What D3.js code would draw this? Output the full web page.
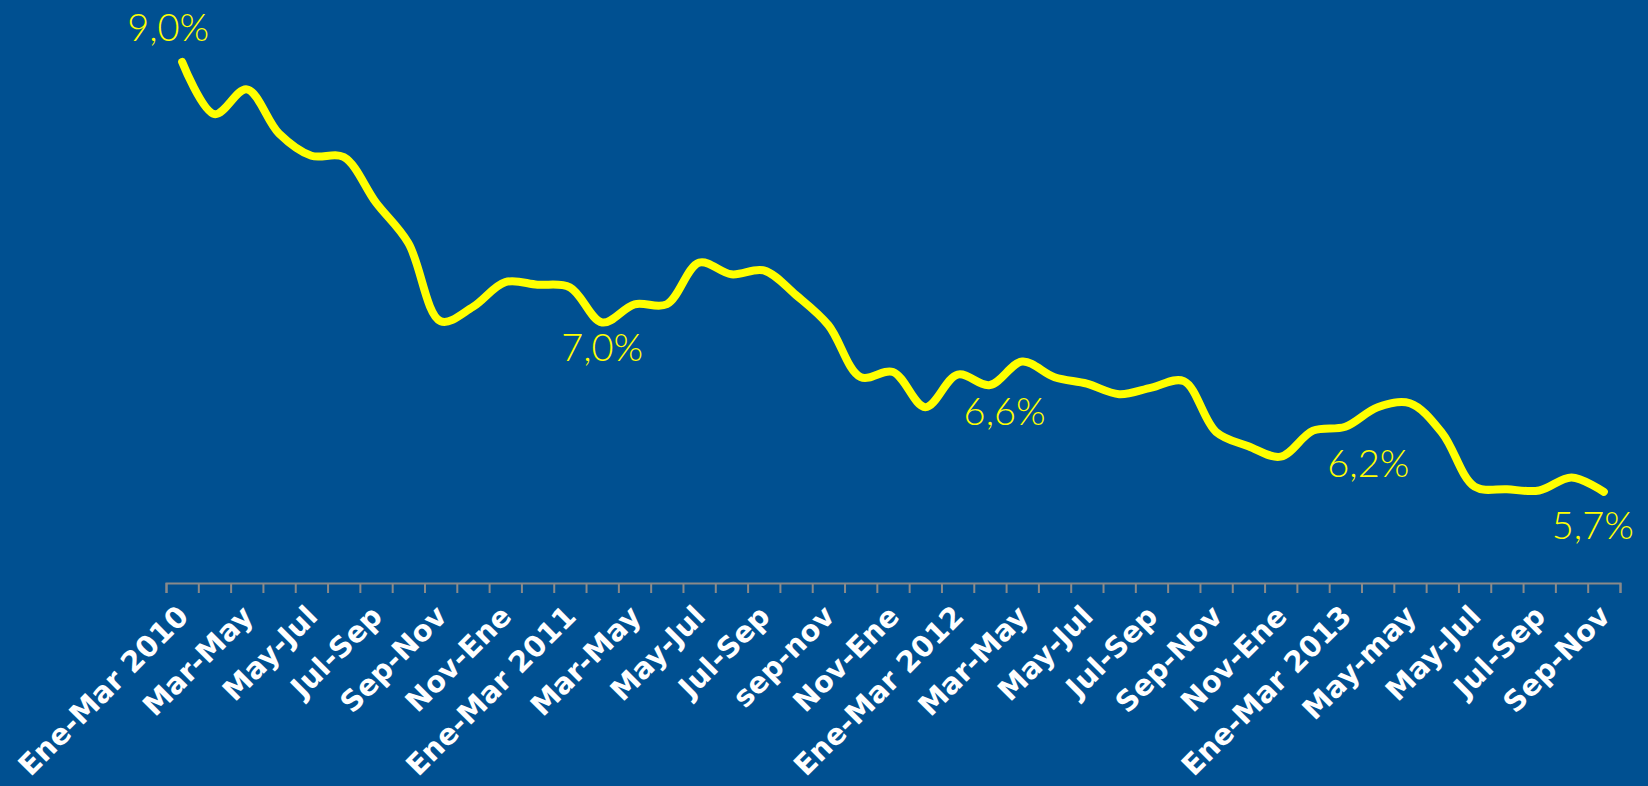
<!DOCTYPE html>
<html>
<head>
<meta charset="utf-8">
<script src="https://cdn.jsdelivr.net/npm/d3@7"></script>
<style>
    html, body { margin: 0; padding: 0; background: #005091; overflow: hidden; }
    svg { display: block; }
</style>
</head>
<body>
<div id="chart"></div>
<script>
// Trimestres móviles (uno por mes), Ene-Mar 2010 a Sep-Nov 2013
const periodos = [
    'Ene-Mar 2010', 'Feb-Abr', 'Mar-May', 'Abr-Jun', 'May-Jul', 'Jun-Ago', 'Jul-Sep', 'Ago-Oct', 'Sep-Nov', 'Oct-Dic', 'Nov-Ene', 'Dic-Feb',
    'Ene-Mar 2011', 'Feb-Abr', 'Mar-May', 'Abr-Jun', 'May-Jul', 'Jun-Ago', 'Jul-Sep', 'Ago-Oct', 'sep-nov', 'Oct-Dic', 'Nov-Ene', 'Dic-Feb',
    'Ene-Mar 2012', 'Feb-Abr', 'Mar-May', 'Abr-Jun', 'May-Jul', 'Jun-Ago', 'Jul-Sep', 'Ago-Oct', 'Sep-Nov', 'Oct-Dic', 'Nov-Ene', 'Dic-Feb',
    'Ene-Mar 2013', 'Feb-Abr', 'May-may', 'Abr-Jun', 'May-Jul', 'Jun-Ago', 'Jul-Sep', 'Ago-Oct', 'Sep-Nov'
];

// Tasa (%)
const tasa = [
    9.00, 8.60, 8.79, 8.45, 8.28, 8.27, 7.92, 7.61, 7.01, 7.12, 7.31, 7.29,
    7.27, 7.00, 7.14, 7.14, 7.46, 7.37, 7.40, 7.21, 6.98, 6.58, 6.62, 6.35,
    6.60, 6.52, 6.70, 6.58, 6.53, 6.45, 6.50, 6.55, 6.16, 6.05, 5.97, 6.17,
    6.20, 6.35, 6.38, 6.15, 5.74, 5.72, 5.71, 5.81, 5.70
];

// Puntos con etiqueta de valor
const etiquetados = [0, 13, 24, 36, 44];

// Desplazamiento de cada etiqueta respecto a su punto (px)
const offsets = {
    0: [-14, -21],
    13: [0, 38],
    24: [47, 50],
    36: [23, 50],
    44: [-11, 47]
};

const W = 1648, H = 786;
const axisY = 583;

const svg = d3.select('#chart').append('svg')
    .attr('width', W)
    .attr('height', H);

svg.append('rect').attr('width', W).attr('height', H).attr('fill', '#005091');

const x = d3.scaleLinear().domain([0, periodos.length]).range([166, 1620]);
const y = d3.scaleLinear().domain([5, 9]).range([axisY, 62]);
const cx = i => x(i + 0.5);

// eje con marcas en los límites de cada periodo
const axis = svg.append('g')
    .attr('transform', `translate(0,${axisY})`)
    .call(d3.axisBottom(x).tickValues(d3.range(periodos.length + 1)).tickSize(10).tickFormat(''));
axis.selectAll('path, line').attr('stroke', '#8a8a8a').attr('stroke-width', 2);

svg.append('g').selectAll('text')
    .data(periodos.map((p, i) => ({ p, i })).filter(d => d.i % 2 === 0))
    .enter().append('text')
    .attr('transform', d => `translate(${cx(d.i) + 8},618) rotate(-45)`)
    .attr('text-anchor', 'end')
    .attr('font-family', 'DejaVu Sans, Verdana, sans-serif')
    .attr('font-weight', 'bold')
    .attr('font-size', 29)
    .attr('fill', '#ffffff')
    .text(d => d.p);

const line = d3.line()
    .x((d, i) => cx(i))
    .y(d => y(d))
    .curve(d3.curveCatmullRom.alpha(0.5));

svg.append('path')
    .datum(tasa)
    .attr('d', line)
    .attr('fill', 'none')
    .attr('stroke', '#ffff00')
    .attr('stroke-width', 8)
    .attr('stroke-linecap', 'round')
    .attr('stroke-linejoin', 'round');

const fmt = v => d3.format('.1f')(v).replace('.', ',') + '%';

svg.append('g').selectAll('text')
    .data(etiquetados)
    .enter().append('text')
    .attr('x', i => cx(i) + offsets[i][0])
    .attr('y', i => y(tasa[i]) + offsets[i][1])
    .attr('text-anchor', 'middle')
    .attr('font-family', 'Lato, Open Sans, sans-serif')
    .attr('font-weight', 300)
    .attr('font-size', 38)
    .attr('fill', '#ffff00')
    .text(i => fmt(tasa[i]));
</script>
</body>
</html>
